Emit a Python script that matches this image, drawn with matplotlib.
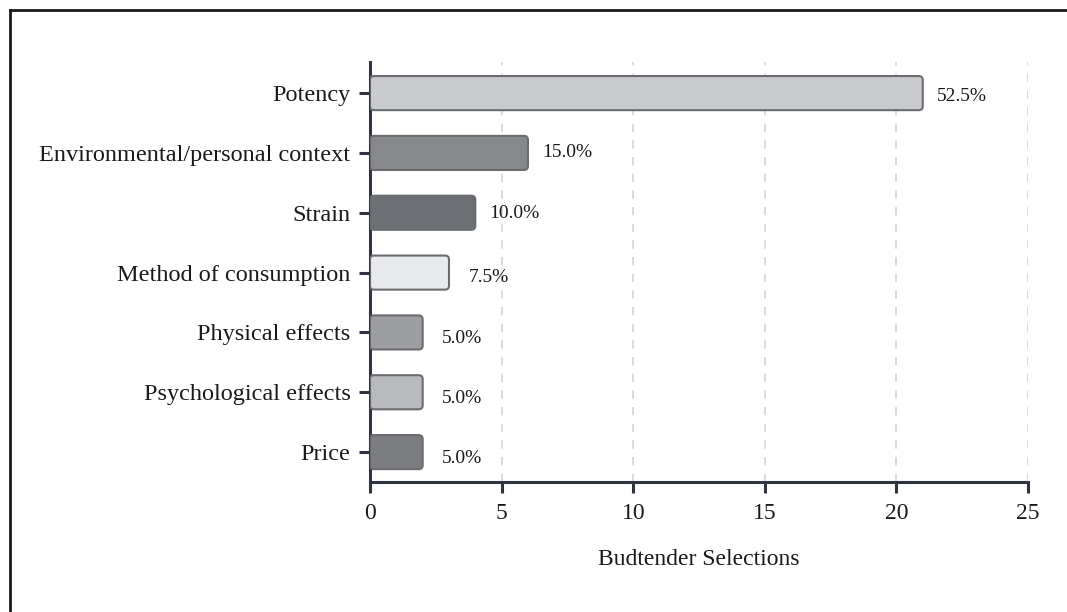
import matplotlib
matplotlib.use("Agg")
import matplotlib.pyplot as plt
from matplotlib.patches import FancyBboxPatch
from matplotlib.lines import Line2D

categories = ["Price", "Psychological effects", "Physical effects",
              "Method of consumption", "Strain",
              "Environmental/personal context", "Potency"]
selections = [2, 2, 2, 3, 4, 6, 21]
percent_labels = ["5.0%", "5.0%", "5.0%", "7.5%", "10.0%", "15.0%", "52.5%"]
bar_colors = ["#7b7d81", "#b9babd", "#9c9ea1", "#e8e9ea", "#6c6f74", "#86888c", "#c9cbcf"]
xticks = [0, 5, 10, 15, 20, 25]

plt.rcParams['font.family'] = ['Liberation Serif', 'DejaVu Serif']

fig = plt.figure(figsize=(10.67, 6.12), dpi=100)
ax = fig.add_axes([0.3468, 0.2124, 0.9635 - 0.3468, 0.8987 - 0.2124])

ypos = list(range(len(categories)))
bh = 0.57
bars = ax.barh(ypos, selections, height=bh, color="none", edgecolor="none")
for b, c in zip(bars, bar_colors):
    x0, y0 = b.get_x(), b.get_y()
    w, h = b.get_width(), b.get_height()
    p = FancyBboxPatch((x0, y0), w, h,
                       boxstyle="round,pad=0,rounding_size=0.15",
                       mutation_aspect=0.45,
                       facecolor=c, edgecolor="#6a6c70", linewidth=1.5, zorder=3)
    ax.add_patch(p)

label_dy = [-0.1, -0.1, -0.1, -0.08, -0.02, 0.0, -0.06]
for y, v, t, dy in zip(ypos, selections, percent_labels, label_dy):
    ax.text(v + 1.5, y + dy, t, ha="center", va="center", fontsize=14, color="#1a1a1a", zorder=4)

ax.set_xlim(0, 25)
ax.set_ylim(-0.5, 6.52)
ax.set_xticks(xticks)
ax.set_yticks(ypos)
ax.set_yticklabels(categories)
ax.set_xlabel("Budtender Selections", fontsize=17, labelpad=18, color="#1a1a1a")

ax.xaxis.grid(True, linestyle=(0, (5, 5)), color="#d4d4d4", linewidth=1.2, zorder=0)
ax.set_axisbelow(True)

for s in ["top", "right"]:
    ax.spines[s].set_visible(False)
for s in ["left", "bottom"]:
    ax.spines[s].set_color("#2f3540")
    ax.spines[s].set_linewidth(2.2)
ax.tick_params(axis="both", direction="out", length=8, width=2.2, color="#2f3540",
               labelcolor="#1a1a1a")
ax.tick_params(axis="x", pad=7, labelsize=17)
ax.tick_params(axis="y", pad=6, labelsize=17.5)

# image border (left and top edges)
fig.add_artist(Line2D([9.5/1067, 9.5/1067], [0, 1 - 9.5/612], transform=fig.transFigure,
                      color="#1a1a1a", linewidth=2))
fig.add_artist(Line2D([9.5/1067, 1], [1 - 9.5/612, 1 - 9.5/612], transform=fig.transFigure,
                      color="#1a1a1a", linewidth=2))

fig.savefig("out.png", dpi=100, facecolor="white")
